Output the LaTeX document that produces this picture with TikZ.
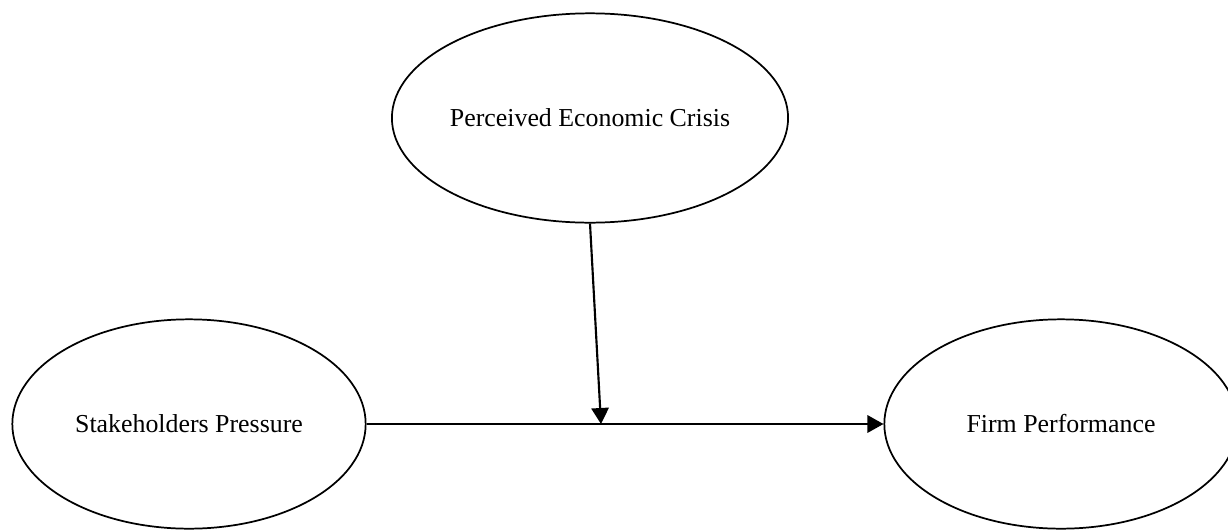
\documentclass[tikz,border=0pt]{standalone}
\usepackage{fontspec}
\setmainfont{Liberation Serif}
\usetikzlibrary{shapes.geometric,arrows.meta}

\begin{document}
\begin{tikzpicture}[x=0.75pt, y=-0.75pt,
        construct/.style={ellipse, draw, line width=1.3pt, minimum width=265pt, minimum height=157pt, inner sep=0pt, font=\fontsize{19.4}{23}\selectfont},
        link/.style={line width=1.6pt, -{Triangle[length=12pt, width=13pt]}}]
                \useasboundingbox (0,0) rectangle (1228,529);
                \node[construct] (C) at (590,118) {Perceived Economic Crisis};
                \node[construct] (S) at (189,424) {Stakeholders Pressure};
                \node[construct] (F) at (1061,424) {Firm Performance};
                \coordinate (M) at (601,424);
                \draw [link] (S) -- (F);
                \draw [link] (C.south) -- (M);
            \end{tikzpicture}
\end{document}
